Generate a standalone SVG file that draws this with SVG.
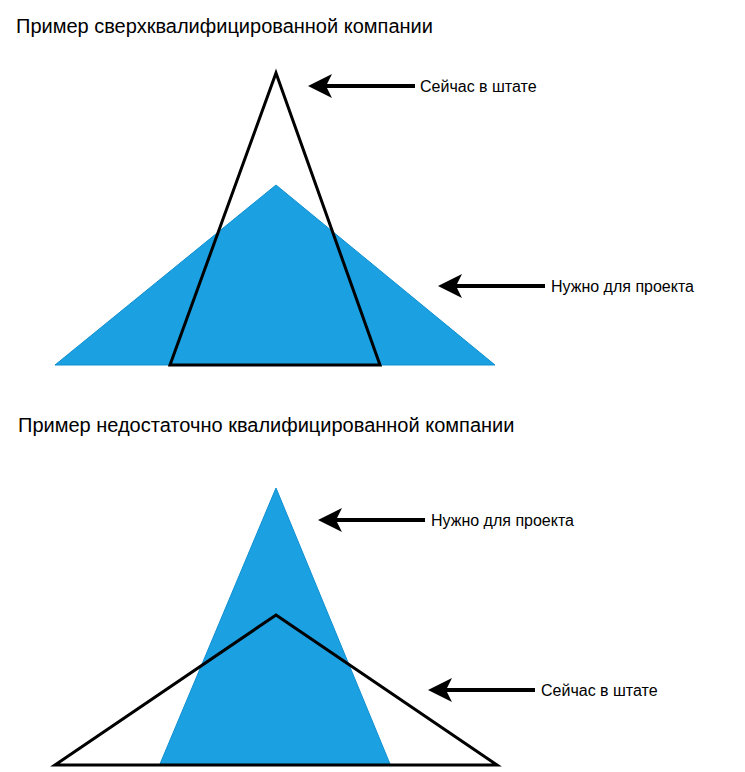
<svg xmlns="http://www.w3.org/2000/svg" width="745" height="772" viewBox="0 0 745 772">
<style>
text{font-family:"Liberation Sans",Arial,sans-serif;fill:#000}
.t{font-size:20px}.l{font-size:16px}
.blue{fill:#1ba1e2;stroke:#0f8fd0;stroke-width:1}
.out{fill:none;stroke:#000;stroke-width:3}
.arr{stroke:#000;stroke-width:4;fill:none;marker-end:url(#ah)}
</style>
<defs><marker id="ah" markerWidth="6" markerHeight="6" refX="4" refY="3" orient="auto" markerUnits="strokeWidth"><path d="M0,0L6,3L0,6L1.5,3z" fill="#000"/></marker></defs>
<rect width="745" height="772" fill="#fff"/>
<g id="title1"><text class="t" x="16" y="33">Пример сверхквалифицированной компании</text></g>
<g id="need1"><polygon class="blue" points="276,185 495,365 55,365"/></g>
<g id="have1"><polygon class="out" points="276,73 380,365 170,365"/></g>
<g id="title2"><text class="t" x="18" y="432">Пример недостаточно квалифицированной компании</text></g>
<g id="need2"><polygon class="blue" points="276,488 390,764 160,764"/></g>
<g id="have2"><polygon class="out" points="276,615 497,765 55,765"/></g>
<g id="connectors">
<line class="arr" x1="415" y1="86" x2="316" y2="86"/>
<line class="arr" x1="545" y1="286" x2="446" y2="286"/>
<line class="arr" x1="425" y1="520" x2="326" y2="520"/>
<line class="arr" x1="535" y1="690" x2="436" y2="690"/>
</g>
<g id="labels">
<text class="l" x="420" y="92">Сейчас в штате</text>
<text class="l" x="551" y="292">Нужно для проекта</text>
<text class="l" x="431" y="526">Нужно для проекта</text>
<text class="l" x="541" y="696">Сейчас в штате</text>
</g>
</svg>
